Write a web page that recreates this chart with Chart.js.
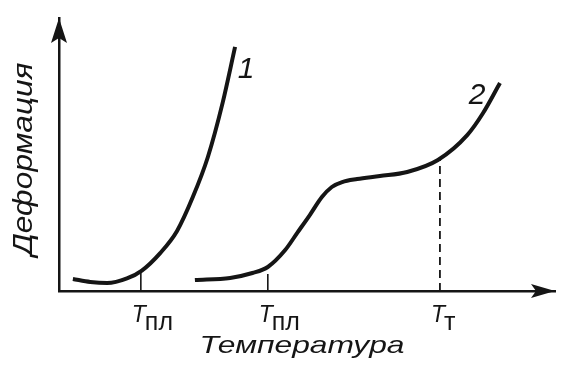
<!DOCTYPE html>
<html>
<head>
<meta charset="utf-8">
<script src="https://cdn.jsdelivr.net/npm/chart.js@4"></script>
<style>
  html, body { margin: 0; padding: 0; background: #fff; }
  canvas { display: block; }
</style>
</head>
<body>
<canvas id="deformChart" width="567" height="374"></canvas>
<script>
// curve 1, arbitrary units 0..100
const curve1X = [2.8, 6.3, 9.7, 13.7, 16.7, 20.4, 23.8, 27.0, 30.0, 33.0, 35.5];
const curve1Y = [4.4, 3.3, 2.9, 4.6, 7.5, 13.9, 22.0, 34.5, 49.0, 69.0, 89.4];

// curve 2
const curve2X = [27.4, 34.5, 39.0, 42.1, 45.6, 48.0, 50.6, 53.0, 55.0, 57.1, 60.1, 64.7, 70.2, 76.4, 82.3, 85.5, 88.9];
const curve2Y = [4.0, 4.8, 6.6, 8.8, 15.0, 21.2, 27.9, 34.4, 38.1, 39.9, 41.0, 42.1, 43.6, 48.0, 57.1, 65.2, 76.2];

// marked temperatures on the x axis
const markX = [16.5, 42.1, 76.8];
const markTop = [7.5, 6.2, 48.4];
const markMain = ['T', 'T', 'T'];
const markSub = ['пл', 'пл', 'т'];

const curveLabels = ['1', '2'];
const curveLabelPos = [[37.7, 81], [84.3, 71.5]];

const xTitle = 'Температура';
const yTitle = 'Деформация';

const ink = '#151515';

function pts(xs, ys) {
    let out = [];
    for (let i = 0; i < xs.length; i++) {
        out.push({ x: xs[i], y: ys[i] });
    }
    return out;
}

let datasets = [
    { data: pts(curve1X, curve1Y), borderColor: ink, borderWidth: 4, cubicInterpolationMode: 'monotone' },
    { data: pts(curve2X, curve2Y), borderColor: ink, borderWidth: 4, cubicInterpolationMode: 'monotone' },
    { data: [{ x: markX[0], y: 0 }, { x: markX[0], y: markTop[0] }], borderColor: ink, borderWidth: 1.6 },
    { data: [{ x: markX[1], y: 0 }, { x: markX[1], y: markTop[1] }], borderColor: ink, borderWidth: 1.6 },
    { data: [{ x: markX[2], y: 0 }, { x: markX[2], y: markTop[2] }], borderColor: ink, borderWidth: 1.8, borderDash: [8, 5] }
];
datasets.forEach(d => { d.pointRadius = 0; d.fill = false; d.borderCapStyle = 'butt'; });

function fitText(ctx, text, x, y, width) {
    // stretch text horizontally to the width it has in the picture
    let w = ctx.measureText(text).width;
    ctx.save();
    ctx.translate(x, y);
    ctx.scale(width / w, 1);
    ctx.fillText(text, -w / 2, 0);
    ctx.restore();
}

const decorations = {
    id: 'decorations',
    afterDraw(chart) {
        const ctx = chart.ctx;
        const xs = chart.scales.x;
        const ys = chart.scales.y;
        const left = xs.left, bottom = ys.bottom;
        ctx.save();
        ctx.fillStyle = ink;

        // arrow heads
        ctx.beginPath();
        ctx.moveTo(left, ys.top);
        ctx.lineTo(left - 8, ys.top + 25);
        ctx.lineTo(left, ys.top + 20);
        ctx.lineTo(left + 8, ys.top + 25);
        ctx.closePath();
        ctx.fill();
        ctx.beginPath();
        ctx.moveTo(xs.right, bottom);
        ctx.lineTo(xs.right - 24, bottom - 7);
        ctx.lineTo(xs.right - 19, bottom);
        ctx.lineTo(xs.right - 24, bottom + 7);
        ctx.closePath();
        ctx.fill();

        // T labels with subscripts
        ctx.textBaseline = 'alphabetic';
        for (let i = 0; i < markX.length; i++) {
            let px = xs.getPixelForValue(markX[i]);
            ctx.font = 'italic 23px "Liberation Sans", Arial, sans-serif';
            ctx.textAlign = 'center';
            ctx.fillText(markMain[i], px - 2, bottom + 31);
            ctx.font = '25px "Liberation Sans", Arial, sans-serif';
            ctx.textAlign = 'left';
            ctx.fillText(markSub[i], px + 4, bottom + 39);
        }

        // curve numbers
        ctx.font = 'italic 30px "Liberation Sans", Arial, sans-serif';
        ctx.textAlign = 'center';
        ctx.textBaseline = 'middle';
        for (let i = 0; i < curveLabels.length; i++) {
            ctx.fillText(curveLabels[i], xs.getPixelForValue(curveLabelPos[i][0]), ys.getPixelForValue(curveLabelPos[i][1]));
        }

        // axis titles
        ctx.textAlign = 'left';
        ctx.textBaseline = 'alphabetic';
        ctx.font = 'italic 24px "Liberation Sans", Arial, sans-serif';
        fitText(ctx, xTitle, 302, 353, 205);
        ctx.save();
        ctx.translate(32, 159);
        ctx.rotate(-Math.PI / 2);
        ctx.font = 'italic 27px "Liberation Sans", Arial, sans-serif';
        fitText(ctx, yTitle, 0, 0, 193);
        ctx.restore();

        ctx.restore();
    }
};

let ctx = document.getElementById('deformChart').getContext('2d');

let deformChart = new Chart(ctx, {
    type: 'line',
    data: { datasets: datasets },
    options: {
        responsive: false,
        animation: false,
        layout: {
            padding: { left: 59, top: 18, right: 12, bottom: 83 }
        },
        plugins: {
            legend: { display: false },
            tooltip: { enabled: false }
        },
        scales: {
            x: {
                type: 'linear',
                min: 0,
                max: 100,
                ticks: { display: false },
                grid: { display: false, drawTicks: false },
                border: { display: true, color: ink, width: 2.5 }
            },
            y: {
                type: 'linear',
                min: 0,
                max: 100,
                ticks: { display: false },
                grid: { display: false, drawTicks: false },
                border: { display: true, color: ink, width: 2.5 }
            }
        }
    },
    plugins: [decorations]
});
</script>
</body>
</html>
